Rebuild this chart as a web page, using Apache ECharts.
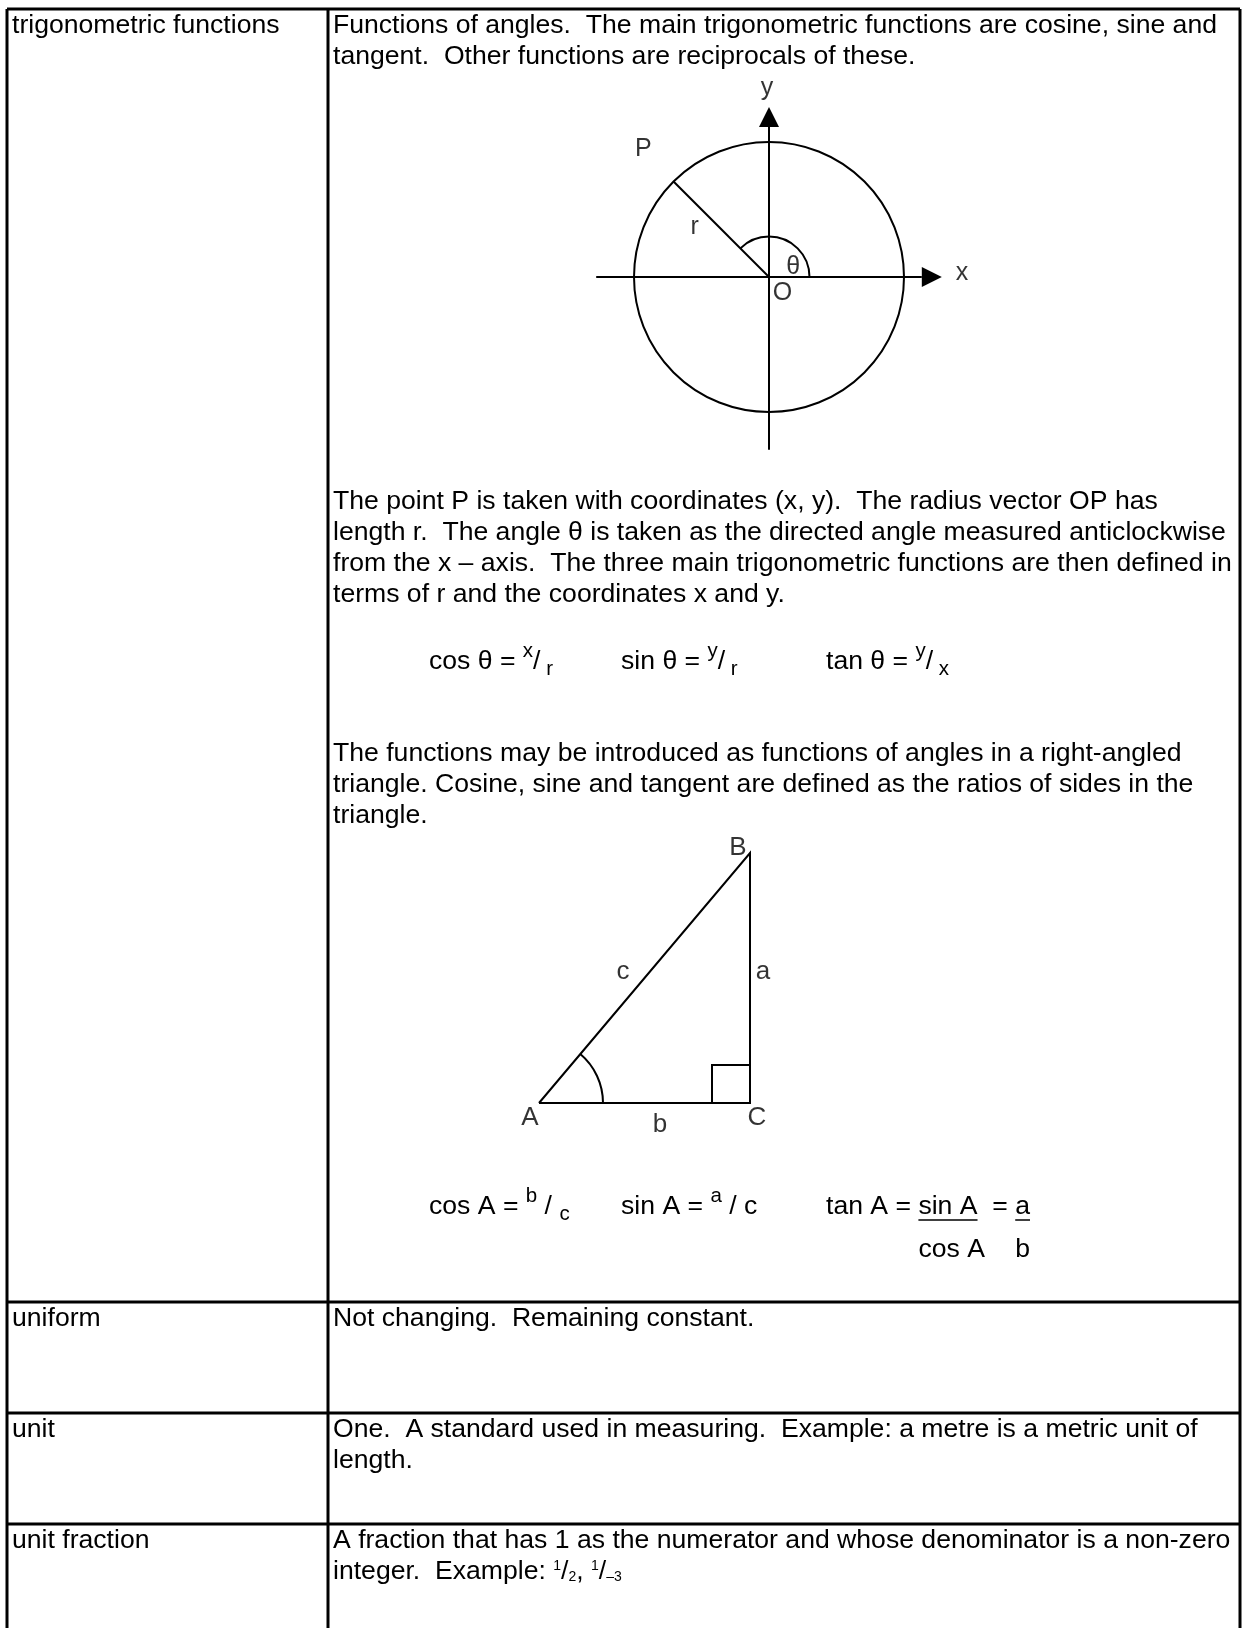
<!DOCTYPE html>
<html>
<head>
<meta charset="utf-8">
<script src="https://cdn.jsdelivr.net/npm/echarts/dist/echarts.min.js"></script>
<style>
  html, body { margin: 0; padding: 0; background: #fff; }
  #main { width: 1242px; height: 1628px; }
</style>
</head>
<body>
<div id="main"></div>
<script>
// glossary page: trigonometric functions / uniform / unit / unit fraction

const terms = ['trigonometric functions', 'uniform', 'unit', 'unit fraction'];

const trigIntro = [
    'Functions of angles.  The main trigonometric functions are cosine, sine and',
    'tangent.  Other functions are reciprocals of these.'
];
const trigPolarText = [
    'The point P is taken with coordinates (x, y).  The radius vector OP has',
    'length r.  The angle \u03b8 is taken as the directed angle measured anticlockwise',
    'from the x \u2013 axis.  The three main trigonometric functions are then defined in',
    'terms of r and the coordinates x and y.'
];
const trigTriangleText = [
    'The functions may be introduced as functions of angles in a right-angled',
    'triangle. Cosine, sine and tangent are defined as the ratios of sides in the',
    'triangle.'
];
const uniformDef = ['Not changing.  Remaining constant.'];
const unitDef = [
    'One.  A standard used in measuring.  Example: a metre is a metric unit of',
    'length.'
];
const unitFractionDef = ['A fraction that has 1 as the numerator and whose denominator is a non-zero'];
const unitFractionExample = [['integer.  Example: '], ['1', 'tsup'], ['/'], ['2', 'tsub'], [', '], ['1', 'tsup'], ['/'], ['\u20133', 'tsub']];

const polarFormulas = [
    [['cos \u03b8 = '], ['x', 'sup'], ['/'], [' r', 'sub']],
    [['sin \u03b8 = '], ['y', 'sup'], ['/'], [' r', 'sub']],
    [['tan \u03b8 = '], ['y', 'sup'], ['/'], [' x', 'sub']]
];
const triangleFormulas = [
    [['cos A = '], ['b', 'sup'], [' / '], ['c', 'sub']],
    [['sin A = '], ['a', 'sup'], [' / c']]
];
const tanFraction = ['tan A = ', ['sin A', 'cos A'], '  = ', ['a', 'b']];

// unit circle diagram (radius 1)
const circleCentre = [0, 0];
const circleRadius = 1;
const axisArrows = [[-1.28, 0, 1.28, 0], [0, -1.28, 0, 1.26]];
const radiusAngle = 135;
const thetaArcRadius = 0.3;
const circleLabels = [['y', -0.015, 1.40], ['x', 1.43, 0.03], ['P', -0.93, 0.95], ['r', -0.55, 0.37], ['\u03b8', 0.18, 0.07], ['O', 0.10, -0.12]];

// right-angled triangle A-C-B
const sideB = 4.22;
const sideA = 5;
const trianglePoints = [[0, 0], [sideB, 0], [sideB, sideA], [0, 0]];
const rightMark = 0.76;
const angleArcRadius = 1.28;
const triangleLabels = [['B', 3.98, 5.1], ['c', 1.68, 2.62], ['a', 4.48, 2.62], ['A', -0.18, -0.30], ['C', 4.36, -0.30], ['b', 2.42, -0.44]];

const FONT = '"Liberation Sans", Arial, Helvetica, sans-serif';
const FS = 26.6;
const LINE_H = 31;
const TXT_X = 333;
const pieceStyle = {
    n: { size: FS, dy: 0 },
    sup: { size: 20.5, dy: -11 },
    sub: { size: 20.5, dy: 7 },
    tsup: { size: 14, dy: -6 },
    tsub: { size: 14, dy: 5 }
};

const meas = document.createElement('canvas').getContext('2d');
function textWidth(s, size) {
    meas.font = size + 'px ' + FONT;
    return meas.measureText(s).width;
}

const g = [];
function addText(x, y, s, size) {
    g.push({
        type: 'text', x: x, y: y, silent: true,
        style: { text: s, fontSize: size, fontFamily: FONT, fill: '#000', align: 'left', verticalAlign: 'middle' }
    });
    return textWidth(s, size);
}
function addLine(x1, y1, x2, y2, w) {
    g.push({ type: 'line', silent: true, shape: { x1, y1, x2, y2 }, style: { stroke: '#000', lineWidth: w } });
}
function addLines(x, y, lines) {
    lines.forEach((l, i) => addText(x, y + i * LINE_H, l, FS));
}
function addRun(x, y, pieces) {
    pieces.forEach(p => {
        const st = pieceStyle[p[1] || 'n'];
        x += addText(x, y + st.dy, p[0], st.size);
    });
}
function addFrac(x, y, top, bottom) {
    const w = addText(x, y, top, FS);
    addText(x, y + 43, bottom, FS);
    addLine(x, y + 13, x + w, y + 13, 1.5);
    return w;
}

// table frame
const T = { left: 7, mid: 328, right: 1240, top: 9, bottom: 1628 };
const rowLines = [1302, 1413, 1524];
addLine(T.left, T.top, T.right, T.top, 3);
[T.left, T.mid, T.right].forEach(x => addLine(x, T.top, x, T.bottom, 3));
rowLines.forEach(y => addLine(T.left, y, T.right, y, 3));

const rowTops = [T.top].concat(rowLines);
terms.forEach((t, i) => addText(12, rowTops[i] + 17, t, FS));

// row 1
addLines(TXT_X, 26, trigIntro);
addLines(TXT_X, 502, trigPolarText);
[429, 621, 826].forEach((x, i) => addRun(x, 662, polarFormulas[i]));
addLines(TXT_X, 754, trigTriangleText);
[429, 621].forEach((x, i) => addRun(x, 1207, triangleFormulas[i]));
(function () {
    let x = 826, y = 1207;
    x += addText(x, y, tanFraction[0], FS);
    x += addFrac(x, y, tanFraction[1][0], tanFraction[1][1]);
    x += addText(x, y, tanFraction[2], FS);
    addFrac(x, y, tanFraction[3][0], tanFraction[3][1]);
})();

// rows 2-4
addLines(TXT_X, rowLines[0] + 17, uniformDef);
addLines(TXT_X, rowLines[1] + 17, unitDef);
addLines(TXT_X, rowLines[2] + 17, unitFractionDef);
addRun(TXT_X, rowLines[2] + 17 + LINE_H, unitFractionExample);

// render helpers for the diagrams
const ink = { stroke: '#000', lineWidth: 2, fill: 'none' };
function renderCircle(params, api) {
    const c = api.coord([api.value(0), api.value(1)]);
    const r = api.size([api.value(2), 0])[0];
    return { type: 'circle', shape: { cx: c[0], cy: c[1], r: r }, style: ink };
}
function renderArrow(params, api) {
    const p1 = api.coord([api.value(0), api.value(1)]);
    const p2 = api.coord([api.value(2), api.value(3)]);
    const dx = p2[0] - p1[0], dy = p2[1] - p1[1];
    const len = Math.hypot(dx, dy), ux = dx / len, uy = dy / len;
    const head = 20, half = 10;
    const b = [p2[0] - ux * head, p2[1] - uy * head];
    return {
        type: 'group', children: [
            { type: 'line', shape: { x1: p1[0], y1: p1[1], x2: b[0], y2: b[1] }, style: ink },
            { type: 'polygon', shape: { points: [p2, [b[0] - uy * half, b[1] + ux * half], [b[0] + uy * half, b[1] - ux * half]] }, style: { fill: '#000' } }
        ]
    };
}
function renderRadius(params, api) {
    const c = api.coord([api.value(0), api.value(1)]);
    const R = api.size([api.value(2), 0])[0];
    const a = api.value(3) * Math.PI / 180;
    const ar = api.size([api.value(4), 0])[0];
    return {
        type: 'group', children: [
            { type: 'line', shape: { x1: c[0], y1: c[1], x2: c[0] + R * Math.cos(a), y2: c[1] - R * Math.sin(a) }, style: ink },
            { type: 'arc', shape: { cx: c[0], cy: c[1], r: ar, startAngle: -a, endAngle: 0, clockwise: true }, style: ink }
        ]
    };
}
function renderAngleArc(params, api) {
    const c = api.coord([api.value(0), api.value(1)]);
    const r = api.size([api.value(2), 0])[0];
    const a = api.value(3) * Math.PI / 180;
    return { type: 'arc', shape: { cx: c[0], cy: c[1], r: r, startAngle: -a, endAngle: 0, clockwise: true }, style: ink };
}
function renderRightMark(params, api) {
    const c = api.coord([api.value(0), api.value(1)]);
    const s = api.size([api.value(2), 0])[0];
    return { type: 'polyline', shape: { points: [[c[0] - s, c[1]], [c[0] - s, c[1] - s], [c[0], c[1] - s]] }, style: ink };
}
function labelSeries(idx, labels, size) {
    return {
        type: 'scatter', xAxisIndex: idx, yAxisIndex: idx, symbolSize: 1, silent: true,
        itemStyle: { color: 'transparent' },
        label: { show: true, position: 'inside', formatter: '{b}', fontSize: size, fontFamily: FONT, color: '#000', textBorderWidth: 0, textBorderColor: 'transparent' },
        data: labels.map(l => ({ name: l[0], value: [l[1], l[2]] }))
    };
}

const angleA = Math.atan2(sideA, sideB) * 180 / Math.PI;

const chart = echarts.init(document.getElementById('main'));
chart.setOption({
    backgroundColor: '#fff',
    animation: false,
    grid: [
        { left: 566.5, top: 74.5, width: 405, height: 405 },
        { left: 489, top: 803, width: 350, height: 350 }
    ],
    xAxis: [
        { gridIndex: 0, type: 'value', min: -1.5, max: 1.5, show: false },
        { gridIndex: 1, type: 'value', min: -1, max: 6, show: false }
    ],
    yAxis: [
        { gridIndex: 0, type: 'value', min: -1.5, max: 1.5, show: false },
        { gridIndex: 1, type: 'value', min: -1, max: 6, show: false }
    ],
    graphic: { elements: g },
    series: [
        { type: 'custom', xAxisIndex: 0, yAxisIndex: 0, clip: false, silent: true, renderItem: renderCircle, data: [[circleCentre[0], circleCentre[1], circleRadius]] },
        { type: 'custom', xAxisIndex: 0, yAxisIndex: 0, clip: false, silent: true, renderItem: renderArrow, data: axisArrows },
        { type: 'custom', xAxisIndex: 0, yAxisIndex: 0, clip: false, silent: true, renderItem: renderRadius, data: [[circleCentre[0], circleCentre[1], circleRadius, radiusAngle, thetaArcRadius]] },
        labelSeries(0, circleLabels, 25),
        { type: 'line', xAxisIndex: 1, yAxisIndex: 1, symbol: 'none', silent: true, clip: false, lineStyle: { color: '#000', width: 2, join: 'miter' }, data: trianglePoints },
        { type: 'custom', xAxisIndex: 1, yAxisIndex: 1, clip: false, silent: true, renderItem: renderRightMark, data: [[sideB, 0, rightMark]] },
        { type: 'custom', xAxisIndex: 1, yAxisIndex: 1, clip: false, silent: true, renderItem: renderAngleArc, data: [[0, 0, angleArcRadius, angleA]] },
        labelSeries(1, triangleLabels, 26)
    ]
});
</script>
</body>
</html>
